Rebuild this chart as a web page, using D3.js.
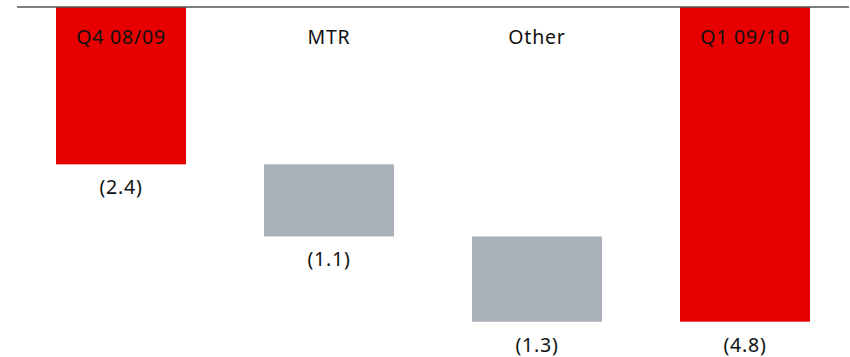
<!DOCTYPE html>
<html>
<head>
<meta charset="utf-8">
<script src="https://cdn.jsdelivr.net/npm/d3@7"></script>
<style>
  html, body { margin: 0; padding: 0; background: #fff; }
  svg { display: block; }
  text { font-family: "Noto Sans", "Open Sans", sans-serif; }
</style>
</head>
<body>
<svg id="chart" width="850" height="357"></svg>
<script>
// Bridge from Q4 08/09 to Q1 09/10 (negative values, shown in brackets)
const categories = ["Q4 08/09", "MTR", "Other", "Q1 09/10"];
const values = [-2.4, -1.1, -1.3, -4.8];
const kinds = ["total", "step", "step", "total"];
const valueLabels = ["(2.4)", "(1.1)", "(1.3)", "(4.8)"];

const width = 850, height = 357;
const svg = d3.select("#chart");

const x = d3.scaleBand()
  .domain(categories)
  .range([17, 849])
  .paddingInner(0.375)
  .paddingOuter(0.1875);

const y = d3.scaleLinear()
  .domain([0, -4.8])
  .range([7, 321.7]);

// waterfall spans: totals hang from zero, steps continue from the running level
let level = 0;
const bars = categories.map((c, i) => {
  let start, end;
  if (kinds[i] === "total") { start = 0; end = values[i]; level = values[i]; }
  else { start = level; end = level + values[i]; level = end; }
  return { cat: c, start, end, kind: kinds[i], label: valueLabels[i] };
});

svg.selectAll("rect.bar")
  .data(bars)
  .join("rect")
  .attr("class", "bar")
  .attr("x", d => x(d.cat))
  .attr("width", x.bandwidth())
  .attr("y", d => y(Math.max(d.start, d.end)))
  .attr("height", d => Math.abs(y(d.end) - y(d.start)))
  .attr("fill", d => d.kind === "total" ? "#e60000" : "#aab0b7");

// zero line along the top
svg.append("line")
  .attr("x1", 17).attr("x2", 849)
  .attr("y1", y(0)).attr("y2", y(0))
  .attr("stroke", "#555")
  .attr("stroke-width", 1.3);

// category names inside the top band
svg.selectAll("text.cat")
  .data(categories)
  .join("text")
  .attr("class", "cat")
  .attr("x", d => x(d) + x.bandwidth() / 2)
  .attr("y", 44)
  .attr("text-anchor", "middle")
  .attr("font-size", 19.5)
  .attr("letter-spacing", 0.8)
  .attr("fill", "#111")
  .text(d => d);

// value labels under each bar
svg.selectAll("text.val")
  .data(bars)
  .join("text")
  .attr("class", "val")
  .attr("x", d => x(d.cat) + x.bandwidth() / 2)
  .attr("y", d => y(Math.min(d.start, d.end)) + 30)
  .attr("text-anchor", "middle")
  .attr("font-size", 19.5)
  .attr("letter-spacing", 0.8)
  .attr("fill", "#111")
  .text(d => d.label);
</script>
</body>
</html>
